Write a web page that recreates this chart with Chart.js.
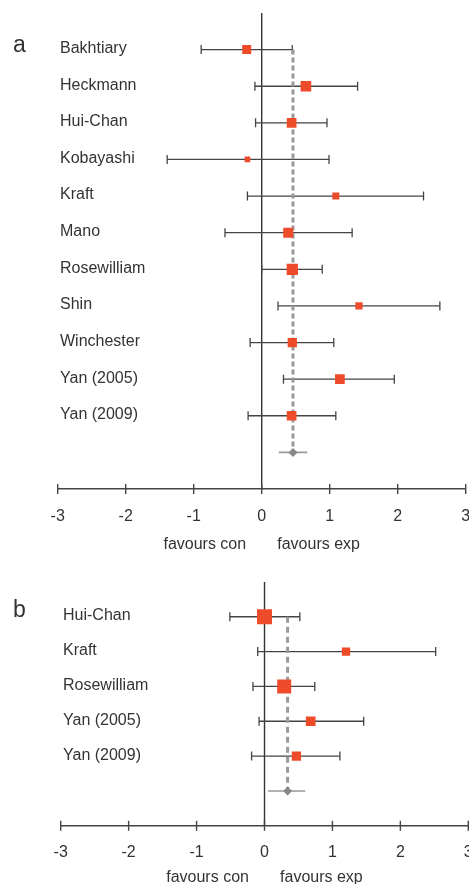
<!DOCTYPE html>
<html>
<head>
<meta charset="utf-8">
<script src="https://cdn.jsdelivr.net/npm/chart.js@4.4.1/dist/chart.umd.min.js"></script>
<style>
  html, body { margin: 0; padding: 0; background: #fff; width: 469px; height: 884px; overflow: hidden; }
  .panel { position: absolute; left: 0; }
  .tag { position: absolute; left: 13px; font: 23px "Liberation Sans", Arial, sans-serif; color: #333; line-height: 1; }
</style>
</head>
<body>
<div class="panel" style="top:0"><canvas id="chartA" width="480" height="560"></canvas></div>
<div class="panel" style="top:570px"><canvas id="chartB" width="480" height="320"></canvas></div>
<div class="tag" style="top:33px">a</div>
<div class="tag" style="top:598px">b</div>
<script>
// x axis ticks (effect size)
const tickValues = [-3, -2, -1, 0, 1, 2, 3];

// panel a - all studies
const studiesA = ['Bakhtiary', 'Heckmann', 'Hui-Chan', 'Kobayashi', 'Kraft', 'Mano', 'Rosewilliam', 'Shin', 'Winchester', 'Yan (2005)', 'Yan (2009)'];
const effectA = [-0.22, 0.65, 0.44, -0.21, 1.09, 0.39, 0.45, 1.43, 0.45, 1.15, 0.44];
const lowerA  = [-0.89, -0.10, -0.09, -1.39, -0.21, -0.54, 0.00, 0.24, -0.17, 0.32, -0.20];
const upperA  = [0.45, 1.41, 0.96, 0.99, 2.38, 1.33, 0.89, 2.62, 1.06, 1.95, 1.09];
const weightA = [8.8, 12.3, 10.2, 3.5, 5.3, 10.8, 13.8, 5.7, 9.3, 10.2, 10.2];
const pooledA = [0.46, 0.25, 0.67]; // estimate, lower, upper

// panel b - subgroup
const studiesB = ['Hui-Chan', 'Kraft', 'Rosewilliam', 'Yan (2005)', 'Yan (2009)'];
const effectB = [0.00, 1.20, 0.29, 0.68, 0.47];
const lowerB  = [-0.51, -0.10, -0.17, -0.08, -0.19];
const upperB  = [0.52, 2.52, 0.74, 1.46, 1.11];
const weightB = [33.6, 10.3, 29.3, 14.0, 12.8];
const pooledB = [0.34, 0.05, 0.60];

Chart.defaults.font.family = '"Liberation Sans", Arial, sans-serif';
Chart.defaults.font.size = 16;
Chart.defaults.color = '#333';

const INK = '#444';
const BOX = '#EE4B2B';

function forestPlot(canvasId, names, est, lo, hi, wt, pooled, look) {
    const n = names.length;
    const yMin = -1, yMax = n + 1;
    const poolRow = n;

    // CI segments, broken with null gaps
    const ciLine = [];
    const caps = [];
    names.forEach((_, i) => {
        ciLine.push({x: lo[i], y: i}, {x: hi[i], y: i}, {x: hi[i], y: null});
        caps.push({x: lo[i], y: i}, {x: hi[i], y: i});
    });
    const boxes = est.map((v, i) => ({x: v, y: i}));
    // square side grows with sqrt(weight)
    const boxRadius = wt.map(w => look.boxScale * Math.sqrt(w) / Math.SQRT2);

    new Chart(document.getElementById(canvasId), {
        type: 'scatter',
        data: {
            datasets: [
                { // study squares
                    data: boxes, pointStyle: 'rect', pointRadius: boxRadius,
                    backgroundColor: BOX, pointBackgroundColor: BOX, pointBorderWidth: 0, borderWidth: 0, order: 0
                },
                { // pooled diamond
                    data: [{x: pooled[0], y: poolRow}], pointStyle: 'rectRot', pointRadius: 4.5,
                    pointBackgroundColor: '#888', pointBorderWidth: 0, order: 1
                },
                { // pooled CI
                    data: [{x: pooled[1], y: poolRow}, {x: pooled[2], y: poolRow}], showLine: true,
                    borderColor: '#999', borderWidth: 1.6, pointRadius: 0, order: 2
                },
                { // pooled estimate dashed line
                    data: [{x: pooled[0], y: 0}, {x: pooled[0], y: poolRow}], showLine: true,
                    borderColor: '#999', borderWidth: 3, borderDash: look.dash, pointRadius: 0, order: 2
                },
                { // CI caps
                    data: caps, pointStyle: 'line', rotation: 90, pointRadius: 4.5,
                    pointBorderColor: INK, pointBorderWidth: 1.3, order: 3
                },
                { // CI lines
                    data: ciLine, showLine: true, spanGaps: false,
                    borderColor: INK, borderWidth: 1.3, pointRadius: 0, order: 4
                },
                { // axis tick marks
                    data: tickValues.map(v => ({x: v, y: yMax})), pointStyle: 'line', rotation: 90, pointRadius: 5,
                    pointBorderColor: INK, pointBorderWidth: 1.4, clip: false, order: 5
                },
                { // line of no effect
                    data: [{x: 0, y: yMin}, {x: 0, y: yMax}], showLine: true,
                    borderColor: '#333', borderWidth: 1.4, pointRadius: 0, order: 6
                }
            ]
        },
        options: {
            responsive: false,
            animation: false,
            events: [],
            layout: { padding: look.padding },
            plugins: { legend: { display: false }, tooltip: { enabled: false } },
            scales: {
                x: {
                    type: 'linear', min: -3, max: 3,
                    ticks: { stepSize: 1, padding: look.tickPad, color: '#333' },
                    afterBuildTicks: axis => { axis.ticks = tickValues.map(v => ({value: v})); },
                    grid: { display: false, drawTicks: true, tickLength: 10 },
                    border: { display: true, color: INK, width: 1.4 },
                    title: {
                        display: true, text: 'favours con       favours exp', color: '#333',
                        padding: { top: look.titlePad, bottom: 0 }
                    }
                },
                y: {
                    type: 'linear', reverse: true, min: yMin, max: yMax,
                    afterBuildTicks: axis => { axis.ticks = [yMin].concat(names.map((_, i) => i), [yMax]).map(v => ({value: v})); },
                    ticks: {
                        mirror: true, padding: 2.3, autoSkip: false, labelOffset: -1, color: '#333',
                        callback: v => names[v] ?? ''
                    },
                    grid: { display: false, drawTicks: false },
                    border: { display: false }
                }
            }
        }
    });
}

forestPlot('chartA', studiesA, effectA, lowerA, upperA, weightA, pooledA, {
    boxScale: 3.04, dash: [5, 3], tickPad: 8, titlePad: 0.8,
    padding: { top: 13, left: 53.1, right: 14.3, bottom: 5.8 }
});

forestPlot('chartB', studiesB, effectB, lowerB, upperB, weightB, pooledB, {
    boxScale: 2.59, dash: [6, 4], tickPad: 7, titlePad: -1.5,
    padding: { top: 7, left: 56.1, right: 11.7, bottom: 3.3 }
});
</script>
</body>
</html>
